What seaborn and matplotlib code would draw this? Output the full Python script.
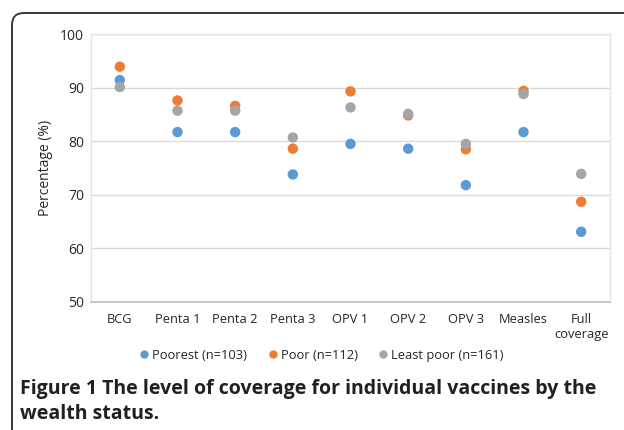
import pandas as pd
import matplotlib.pyplot as plt
import matplotlib.patches as mpatches
from matplotlib.transforms import IdentityTransform
import seaborn as sns

vaccines = ['BCG', 'Penta 1', 'Penta 2', 'Penta 3', 'OPV 1', 'OPV 2', 'OPV 3',
            'Measles', 'Full\ncoverage']
poorest = [91.4, 81.7, 81.7, 73.8, 79.5, 78.6, 71.8, 81.7, 63.1]
poor = [93.9, 87.6, 86.6, 78.6, 89.3, 84.8, 78.5, 89.4, 68.7]
least_poor = [90.1, 85.7, 85.7, 80.7, 86.3, 85.1, 79.5, 88.8, 73.9]
groups = ['Poorest (n=103)', 'Poor (n=112)', 'Least poor (n=161)']
colors = ['#5B9BD5', '#ED7D31', '#A5A5A5']

df = pd.DataFrame({
    'vaccine': vaccines * 3,
    'pct': poorest + poor + least_poor,
    'group': [g for g in groups for _ in vaccines],
})

sns.set_style('white')
plt.rcParams['font.family'] = ['Open Sans', 'DejaVu Sans']

fig = plt.figure(figsize=(6.24, 4.3), dpi=100)
ax = fig.add_axes([0.1458, 0.2977, 0.8318, 0.6232])

sns.stripplot(data=df, x='vaccine', y='pct', hue='group', palette=colors,
              jitter=False, dodge=False, size=7.5, linewidth=0, ax=ax,
              order=vaccines, hue_order=groups)

ax.set_ylim(50, 100)
ax.set_xlim(-0.5, 8.5)
ax.set_yticks(range(50, 101, 10))
ax.yaxis.grid(True, color='#D9D9D9', linewidth=1)
ax.set_axisbelow(True)
for side in ['left', 'top', 'right']:
    ax.spines[side].set_color('#E3E3E3')
    ax.spines[side].set_linewidth(1)
ax.spines['bottom'].set_color('#BFBFBF')
ax.spines['bottom'].set_linewidth(1.2)
ax.tick_params(axis='x', length=0, labelsize=9.3, colors='#262626', pad=8)
ax.tick_params(axis='y', length=0, labelsize=10, colors='#262626', pad=5)
ax.set_xlabel('')
ax.set_ylabel('Percentage (%)', fontsize=10, color='#262626')
ax.yaxis.set_label_coords(-0.074, 0.5)

handles, labels = ax.get_legend_handles_labels()
ax.legend_.remove()
fig.legend(handles, labels, loc='center', bbox_to_anchor=(0.516, 0.174), ncol=3,
           frameon=False, fontsize=9.3, handlelength=0.6, handletextpad=0.3,
           columnspacing=1.7, markerscale=0.8)

fig.text(0.032, 0.066, 'Figure 1 The level of coverage for individual vaccines by the\nwealth status.',
         fontsize=14, fontweight='bold', color='#231F20', ha='left', va='center',
         linespacing=1.3)

frame = mpatches.FancyBboxPatch((12, -60), 700, 477, boxstyle='round,pad=0,rounding_size=12',
                                transform=IdentityTransform(), fill=False,
                                edgecolor='#3A3A3A', linewidth=1.4)
fig.add_artist(frame)

fig.savefig('out.png', dpi=100)
